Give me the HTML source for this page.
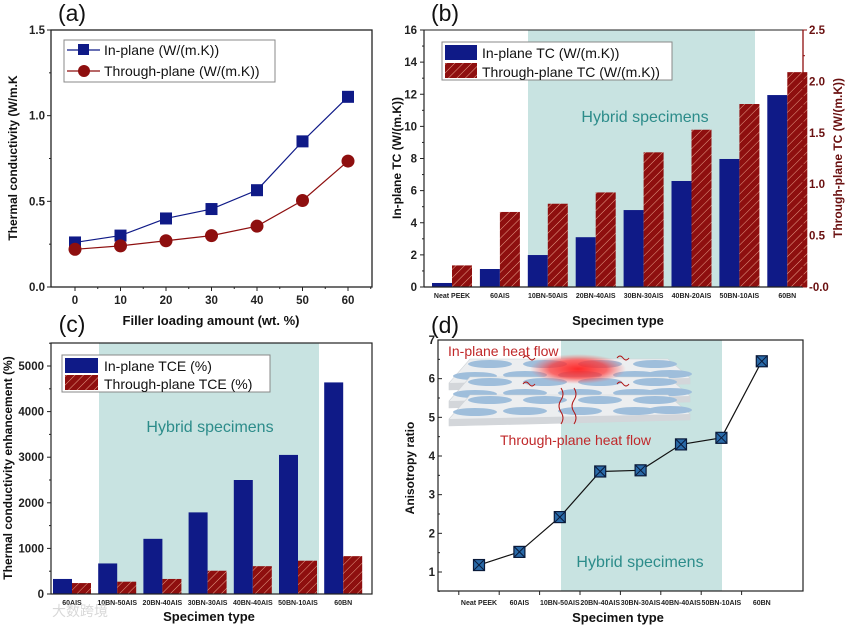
<!DOCTYPE html>
<html><head><meta charset="utf-8">
<style>
html,body{margin:0;padding:0;background:#fff;}
svg{display:block;font-family:"Liberation Sans","Noto Sans CJK SC",sans-serif;}
.tk{font-size:11.5px;font-weight:bold;fill:#222;}
.tks{font-size:7px;font-weight:bold;fill:#222;}
.ttl{font-size:13px;font-weight:bold;fill:#111;}
.ttls{font-size:12px;font-weight:bold;fill:#111;}
.pl{font-size:23px;fill:#111;}
.lg{font-size:14px;fill:#111;}
.hy{font-size:16px;fill:#2c8c8a;}
</style></head><body>
<svg id="fig" width="850" height="627" viewBox="0 0 850 627" xmlns="http://www.w3.org/2000/svg">
<defs>
<pattern id="hatch" patternUnits="userSpaceOnUse" width="6" height="6" patternTransform="rotate(45)">
<rect width="6" height="6" fill="#8e0f0f"/>
<line x1="0" y1="0" x2="0" y2="6" stroke="#e8a08a" stroke-width="1"/>
</pattern>
<radialGradient id="glow"><stop offset="0" stop-color="#ff2020" stop-opacity="0.95"/><stop offset="0.6" stop-color="#ff3030" stop-opacity="0.7"/><stop offset="1" stop-color="#ff6060" stop-opacity="0"/></radialGradient>
</defs>
<g id="root"></g>
</svg>
<script>
// Panel (a) data
const aX = [0,10,20,30,40,50,60];
const aInPlane = [0.26,0.30,0.40,0.455,0.565,0.85,1.11];
const aThrough = [0.22,0.24,0.27,0.30,0.355,0.505,0.735];
const aYTicks = [0.0,0.5,1.0,1.5];
const aYTickLabels = ["0.0","0.5","1.0","1.5"];
// Panel (b) data
const bCats = ["Neat PEEK","60AIS","10BN-50AIS","20BN-40AIS","30BN-30AIS","40BN-20AIS","50BN-10AIS","60BN"];
const bInPlane = [0.25,1.12,1.99,3.1,4.79,6.6,7.97,11.95];
const bThrough = [0.21,0.73,0.81,0.92,1.31,1.53,1.78,2.09];
const bLeftTicks = [0,2,4,6,8,10,12,14,16];
const bRightTicks = [0,0.5,1.0,1.5,2.0,2.5];
const bRightLabels = ["-0.0","0.5","1.0","1.5","2.0","2.5"];
// Panel (c) data
const cCats = ["60AIS","10BN-50AIS","20BN-40AIS","30BN-30AIS","40BN-40AIS","50BN-10AIS","60BN"];
const cInPlane = [330,670,1210,1790,2500,3050,4640];
const cThrough = [240,270,330,510,610,730,830];
const cTicks = [0,1000,2000,3000,4000,5000];
// Panel (d) data
const dCats = ["Neat PEEK","60AIS","10BN-50AIS","20BN-40AIS","30BN-30AIS","40BN-40AIS","50BN-10AIS","60BN"];
const dRatio = [1.18,1.52,2.42,3.6,3.63,4.3,4.47,6.45];
const dTicks = [1,2,3,4,5,6,7];

const NS="http://www.w3.org/2000/svg";
const root=document.getElementById('root');
function mk(tag,attrs,parent){const e=document.createElementNS(NS,tag);for(const k in attrs)e.setAttribute(k,attrs[k]);(parent||root).appendChild(e);return e;}
function txt(s,x,y,cls,anchor,parent,rot){const t=mk('text',{x:x,y:y,class:cls,'text-anchor':anchor||'middle'},parent);if(rot)t.setAttribute('transform','rotate('+rot+' '+x+' '+y+')');t.textContent=s;return t;}
function lin(sc){return v=>sc.r0+(v-sc.d0)*(sc.r1-sc.r0)/(sc.d1-sc.d0);}
const BLUE="#0f1a87", RED="#8e0f0f", SHADE="#c8e3e1";

// ===== Panel (a)
(function(){
 const g=mk('g',{});
 
 
 const L=51,R=372,T=30,B=287;
 const x=lin({d0:0,d1:60,r0:75,r1:348}), y=lin({d0:0,d1:1.5,r0:B,r1:T});
 mk('rect',{x:L,y:T,width:R-L,height:B-T,fill:'none',stroke:'#222','stroke-width':1.3},g);
 aYTicks.forEach((v,i)=>{mk('line',{x1:L-4,x2:L,y1:y(v),y2:y(v),stroke:'#222'},g);
  if(i<aYTicks.length-1) mk('line',{x1:L-2,x2:L,y1:y(v+0.25),y2:y(v+0.25),stroke:'#222'},g);
  const t=txt(aYTickLabels[i],L-6,y(v)+4,'tk','end',g);});
 aX.forEach(v=>{mk('line',{x1:x(v),x2:x(v),y1:B,y2:B+4,stroke:'#222'},g);mk('line',{x1:x(v+5),x2:x(v+5),y1:B,y2:B+2,stroke:'#222'},g);
  const t=txt(String(v),x(v),B+17,'tk','middle',g);});
 const t1=txt('Thermal conductivity (W/m.K',17,158,'ttls','middle',g,-90);
 const t2=txt('Filler loading amount (wt. %)',211,325,'ttl','middle',g);
 const t3=txt('(a)',72,21,'pl','middle',g);
 const pi=mk('polyline',{points:aX.map((v,i)=>x(v)+','+y(aInPlane[i])).join(' '),fill:'none',stroke:BLUE,'stroke-width':1.2},g);
 
 const pt=mk('polyline',{points:aX.map((v,i)=>x(v)+','+y(aThrough[i])).join(' '),fill:'none',stroke:RED,'stroke-width':1.2},g);
 
 aX.forEach((v,i)=>{const r=mk('rect',{x:x(v)-6,y:y(aInPlane[i])-6,width:12,height:12,fill:BLUE},g);
  
  const c=mk('circle',{cx:x(v),cy:y(aThrough[i]),r:6.5,fill:RED},g);
  });
 const lg=mk('g',{},g);
 mk('rect',{x:64,y:40,width:211,height:42,fill:'#fff',stroke:'#888'},lg);
 mk('line',{x1:67,x2:100,y1:50,y2:50,stroke:BLUE,'stroke-width':1.2},lg);mk('rect',{x:78,y:44,width:11,height:11,fill:BLUE},lg);
 txt('In-plane (W/(m.K))',104,55,'lg','start',lg);
 mk('line',{x1:67,x2:100,y1:71,y2:71,stroke:RED,'stroke-width':1.2},lg);mk('circle',{cx:84,cy:71,r:6,fill:RED},lg);
 txt('Through-plane (W/(m.K))',104,76,'lg','start',lg);
})();

// ===== Panel (b)
(function(){
 const g=mk('g',{});
 
 
 const L=424,R=803,T=30,B=287;
 const yl=lin({d0:0,d1:16,r0:B,r1:T}), yr=lin({d0:0,d1:2.5,r0:B,r1:T});
 const xc=i=>452+47.9*i;
 const sh=mk('rect',{x:528,y:T,width:227,height:B-T,fill:SHADE},g);
 const h=txt('Hybrid specimens',645,122,'hy','middle',g);
 bCats.forEach((c,i)=>{
  const b1=mk('rect',{x:xc(i)-20,y:yl(bInPlane[i]),width:20,height:B-yl(bInPlane[i]),fill:BLUE},g);
  
  const b2=mk('rect',{x:xc(i),y:yr(bThrough[i]),width:20,height:B-yr(bThrough[i]),fill:'url(#hatch)'},g);
  
  const t=txt(c,xc(i),298,'tks','middle',g);
 });
 mk('line',{x1:L,x2:L,y1:T,y2:B,stroke:'#222','stroke-width':1.2},g);
 mk('line',{x1:L,x2:R,y1:B,y2:B,stroke:'#222','stroke-width':1.2},g);
 mk('line',{x1:L,x2:R,y1:T,y2:T,stroke:'#222','stroke-width':1},g);
 mk('line',{x1:R,x2:R,y1:T,y2:B,stroke:RED,'stroke-width':1.3},g);
 bLeftTicks.forEach(v=>{mk('line',{x1:L-4,x2:L,y1:yl(v),y2:yl(v),stroke:'#222'},g);
  if(v<16) mk('line',{x1:L-2,x2:L,y1:yl(v+1),y2:yl(v+1),stroke:'#222'},g);
  const t=txt(String(v),L-7,yl(v)+4,'tk','end',g);});
 bRightTicks.forEach((v,i)=>{mk('line',{x1:R,x2:R+4,y1:yr(v),y2:yr(v),stroke:RED},g);
  if(v<2.5) mk('line',{x1:R,x2:R+2,y1:yr(v+0.25),y2:yr(v+0.25),stroke:RED},g);
  const t=txt(bRightLabels[i],R+6,yr(v)+4,'tk','start',g);t.style.fill='#6a1010';});
 const a=txt('In-plane TC (W/(m.K))',401,158,'ttls','middle',g,-90);
 const b=txt('Through-plane TC (W/(m.K))',842,158,'ttls','middle',g,-90);b.style.fill='#6a1010';
 const c=txt('Specimen type',618,325,'ttl','middle',g);
 const d=txt('(b)',445,21,'pl','middle',g);
 const lg=mk('g',{},g);
 mk('rect',{x:442,y:42,width:230,height:38,fill:'#fff',stroke:'#888'},lg);
 mk('rect',{x:445,y:45,width:32,height:15,fill:BLUE},lg);txt('In-plane TC (W/(m.K))',482,58,'lg','start',lg);
 mk('rect',{x:445,y:63,width:32,height:15,fill:'url(#hatch)'},lg);txt('Through-plane TC (W/(m.K))',482,77,'lg','start',lg);
})();

// ===== Panel (c)
(function(){
 const g=mk('g',{});
 
 
 const L=51,R=372,T=343,B=594;
 const y=lin({d0:0,d1:5000,r0:B,r1:366});
 const xc=i=>72+45.2*i;
 const sh=mk('rect',{x:99,y:T,width:220,height:B-T,fill:SHADE},g);
 const h=txt('Hybrid specimens',210,432,'hy','middle',g);
 cCats.forEach((c,i)=>{
  const b1=mk('rect',{x:xc(i)-19,y:y(cInPlane[i]),width:19,height:B-y(cInPlane[i]),fill:BLUE},g);
  
  const b2=mk('rect',{x:xc(i),y:y(cThrough[i]),width:19,height:B-y(cThrough[i]),fill:'url(#hatch)'},g);
  
  const t=txt(c,xc(i),605,'tks','middle',g);
 });
 mk('rect',{x:L,y:T,width:R-L,height:B-T,fill:'none',stroke:'#222','stroke-width':1.2},g);
 cTicks.forEach(v=>{mk('line',{x1:L-4,x2:L,y1:y(v),y2:y(v),stroke:'#222'},g);
  mk('line',{x1:L-2,x2:L,y1:y(v+500),y2:y(v+500),stroke:'#222'},g);
  const t=txt(String(v),L-7,y(v)+4,'tk','end',g);});
 const a=txt('Thermal conductivity enhancement (%)',12,468,'ttls','middle',g,-90);
 const c=txt('Specimen type',209,621,'ttl','middle',g);
 const d=txt('(c)',72,332,'pl','middle',g);
 const lg=mk('g',{},g);
 mk('rect',{x:62,y:355,width:208,height:37,fill:'#fff',stroke:'#888'},lg);
 mk('rect',{x:65,y:358,width:33,height:15,fill:BLUE},lg);txt('In-plane TCE (%)',104,371,'lg','start',lg);
 mk('rect',{x:65,y:375,width:33,height:15,fill:'url(#hatch)'},lg);txt('Through-plane TCE (%)',104,389,'lg','start',lg);
 const w=txt('大数跨境',80,616,'lg','middle',g);w.style.fill='#d8d8d8';
})();

// ===== Panel (d)
(function(){
 const g=mk('g',{});
 
 
 const L=438,R=803,T=340,B=591;
 const y=lin({d0:1,d1:7,r0:572,r1:340});
 const xc=i=>479+40.4*i;
 const sh=mk('rect',{x:561,y:T,width:161,height:B-T,fill:SHADE},g);
 const h=txt('Hybrid specimens',640,567,'hy','middle',g);
 // inset schematic
 const ins=mk('g',{},g);
 [0,1,2].forEach(k=>{const oy=k*18;
  mk('polygon',{points:`449,${383+oy} 470,${359+oy} 668,${359+oy} 690,${378+oy} 690,${384+oy} 449,${390+oy}`,fill:'#eceef0',stroke:'#d0d4d8','stroke-width':0.6},ins);
  mk('polygon',{points:`449,${383+oy} 690,${378+oy} 690,${384+oy} 449,${390+oy}`,fill:'#d3d6da'},ins);
  [[490,364],[545,364],[600,364],[655,364],[475,376],[525,375],[580,375],[635,375],[670,374]].forEach(p=>{mk('ellipse',{cx:p[0],cy:p[1]+oy,rx:22,ry:4,fill:'#9fbedb'},ins);});
 });
 mk('ellipse',{cx:578,cy:369,rx:48,ry:15,fill:'url(#glow)'},ins);
 ['M523,384 q3,-4 6,0 t6,0','M617,384 q3,-4 6,0 t6,0','M523,358 q3,-4 6,0 t6,0','M617,358 q3,-4 6,0 t6,0','M561,388 q4,6 0,12 t0,12 t0,12','M574,388 q4,6 0,12 t0,12 t0,12'].forEach(d=>mk('path',{d:d,fill:'none',stroke:'#b01818','stroke-width':1},ins));
 txt('In-plane heat flow',448,356,'lg','start',ins).style.fill='#c0282a';
 txt('Through-plane heat flow',500,445,'lg','start',ins).style.fill='#c0282a';
 const pl=mk('polyline',{points:dRatio.map((v,i)=>xc(i)+','+y(v)).join(' '),fill:'none',stroke:'#111','stroke-width':1.2},g);
 
 dRatio.forEach((v,i)=>{const m=mk('g',{},g);
  const X=xc(i),Y=y(v);
  mk('rect',{x:X-5.5,y:Y-5.5,width:11,height:11,fill:'#2a6aa8',stroke:'#0a1a3a','stroke-width':1.2},m);
  mk('path',{d:`M${X-5},${Y-5}L${X+5},${Y+5}M${X+5},${Y-5}L${X-5},${Y+5}`,stroke:'#0a1a3a','stroke-width':1},m);});
 mk('rect',{x:L,y:T,width:R-L,height:B-T,fill:'none',stroke:'#222','stroke-width':1.2},g);
 dTicks.forEach(v=>{mk('line',{x1:L,x2:L+4,y1:y(v),y2:y(v),stroke:'#222'},g);
  mk('line',{x1:L,x2:L+2,y1:y(v-0.5),y2:y(v-0.5),stroke:'#222'},g);
  const t=txt(String(v),L-3,y(v)+4,'tk','end',g);});
 dCats.forEach((c,i)=>{mk('line',{x1:xc(i)-20.2,x2:xc(i)-20.2,y1:B,y2:B+4,stroke:'#222'},g);
  const t=txt(c,xc(i),605,'tks','middle',g);});
 const a=txt('Anisotropy ratio',414,468,'ttls','middle',g,-90);
 const c=txt('Specimen type',618,622,'ttl','middle',g);
 const d=txt('(d)',445,333,'pl','middle',g);
})();
</script>
</body></html>
